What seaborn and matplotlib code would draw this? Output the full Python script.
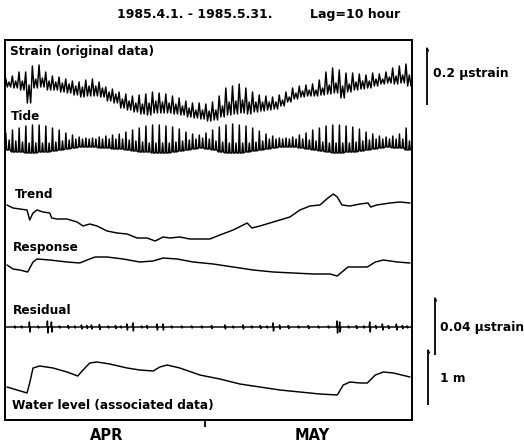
import numpy as np
import pandas as pd
import matplotlib
matplotlib.use("Agg")
import matplotlib.pyplot as plt
import seaborn as sns

# ---------------- data (display units: 57 units = 0.2 ustrain, 55 units = 1 m) ----------------
n_days = 61  # 1985.4.1 - 1985.5.31

strain_hi = [22, 24, 28, 28, 34, 35, 28, 24, 23, 21, 19, 18, 20, 21, 18, 13, 11, 8, 6, 4,
             5, 6, 8, 7, 6, 4, 2, -1, -3, -3, -4, -2, 4, 12, 14, 16, 12, 8, 5, 4,
             3, 5, 8, 12, 14, 15, 16, 20, 28, 32, 30, 27, 27, 26, 25, 27, 26, 28, 32, 34, 36]
strain_hi2 = [18, 19, 19, 15, 21, 22, 19, 18, 17, 16, 14, 13, 14, 14, 12, 8, 6, 1, -1, -3,
              -4, -3, -1, -2, -3, -4, -6, -8, -10, -10, -11, -10, -6, -2, -1, 0, -2, -2, -2, -2,
              -2, 0, 3, 7, 9, 10, 10, 12, 15, 17, 14, 16, 18, 19, 19, 21, 21, 23, 24, 25, 25]
strain_lo = [13, 12, 10, -3, 12, 13, 10, 10, 8, 7, 5, 3, 4, 4, 3, -1, -3, -8, -10, -12,
             -14, -15, -13, -13, -13, -14, -15, -17, -18, -19, -21, -20, -17, -15, -14, -13, -14, -12, -11, -10,
             -9, -6, -2, 1, 3, 4, 4, 5, 6, 7, 2, 8, 10, 11, 12, 14, 16, 17, 16, 17, 14]

tide_hi = [12, 15, 17, 19, 20, 20, 19, 17, 15, 12, 10, 8, 7, 7, 8, 9, 10, 11, 13, 15,
           17, 19, 20, 20, 19, 18, 16, 13, 11, 10, 12, 15, 18, 20, 21, 20, 19, 17, 14, 11,
           9, 7, 7, 8, 10, 12, 15, 17, 19, 20, 20, 19, 18, 16, 13, 11, 9, 8, 9, 11, 17]
tide_hi2 = [5, 4, 3, 2, 2, 2, 2, 3, 4, 5, 6, 6, 6, 6, 6, 6, 6, 6, 5, 4,
            3, 2, 2, 2, 2, 3, 4, 5, 6, 7, 6, 4, 3, 2, 2, 2, 2, 3, 4, 6,
            6, 6, 6, 6, 6, 5, 4, 3, 2, 2, 2, 2, 3, 4, 5, 6, 6, 6, 6, 6, 4]
tide_lo = [-5, -7, -7, -8, -8, -7, -7, -6, -5, -4, -3, -2, -2, -2, -3, -3, -4, -4, -5, -6,
           -7, -7, -8, -8, -8, -7, -6, -5, -4, -3, -4, -5, -7, -8, -8, -8, -7, -6, -5, -4,
           -3, -2, -2, -2, -3, -4, -5, -6, -7, -8, -8, -7, -7, -6, -5, -4, -3, -2, -3, -3, -5]

trend_day = [0.3, 1.2, 2.2, 3.3, 3.7, 4.2, 4.8, 5.7, 6.7, 7.0, 7.8, 9.3, 10.8, 11.7, 12.7, 13.8,
             15.3, 16.8, 18.3, 19.8, 21.3, 22.5, 23.7, 24.7, 26.2, 27.7, 29.2, 30.7, 32.2, 34.2,
             35.7, 36.3, 37.0, 38.2, 39.7, 41.2, 42.7, 44.2, 45.7, 47.2, 48.4, 49.2, 49.8, 50.5,
             51.7, 53.2, 54.4, 54.8, 55.7, 57.7, 59.2, 60.7]
trend_val = [15, 12, 11, 10, 0, 7, 10, 8, 7, 2, 1, 1, -2, -6, -4, -6,
             -11, -13, -14, -18, -18, -21, -17, -18, -17, -19, -19, -19, -15, -10,
             -5, -3, -8, -6, -3, 0, 3, 10, 14, 15, 22, 26, 23, 15,
             14, 16, 17, 13, 15, 17, 18, 17]

response_day = [0.3, 1.2, 2.2, 3.4, 4.2, 4.8, 6.7, 9.3, 11.2, 12.3, 13.5, 15.3, 17.7, 20.2, 22.2,
                23.7, 25.8, 28.2, 31.2, 34.2, 37.2, 40.2, 43.2, 46.2, 48.7, 49.8, 50.5, 51.4,
                52.8, 54.3, 55.5, 56.7, 58.8, 60.7]
response_val = [0, -4, -5, -7, 3, 6, 5, 3, 2, 5, 8, 8, 6, 3, 4,
                7, 6, 3, 1, -2, -5, -7, -8, -9, -9, -11, -7, -2,
                -2, -2, 3, 5, 3, 2]

water_day = [0.3, 1.8, 3.3, 3.7, 4.2, 5.2, 7.2, 9.3, 10.9, 11.7, 12.7, 13.8, 15.7, 18.3, 20.2,
             22.2, 23.2, 24.3, 26.2, 29.2, 32.2, 35.2, 38.2, 41.2, 44.2, 47.2, 49.8, 50.7,
             51.7, 53.2, 54.3, 55.5, 56.7, 58.2, 60.7]
water_val = [-7, -10, -13, -3, 12, 14, 12, 8, 4, 10, 17, 18, 16, 12, 10,
             9, 13, 15, 12, 5, 1, -4, -7, -10, -12, -14, -15, -5,
             -2, -3, -3, 5, 8, 7, 3]

resid_day = [1.5, 2.5, 3.7, 5.0, 6.4, 7.0, 8.2, 9.5, 10.5, 11.5, 12.3, 13.0, 14.2, 15.5, 16.6,
             17.4, 18.3, 19.2, 20.5, 21.3, 22.8, 23.7, 25.0, 26.5, 28.0, 29.5, 31.0, 33.0,
             34.2, 35.7, 37.0, 38.3, 39.3, 40.2, 41.2, 42.5, 44.0, 45.5, 47.0, 48.5, 49.8,
             50.2, 51.5, 52.7, 53.8, 54.7, 55.6, 56.6, 57.5, 58.7, 59.6, 60.3]
resid_amp = [1, 1, 5, 1, 6, 5, 1, 1.5, 1, 2, 1.5, 2, 2.5, 1, 1.5,
             1, 3, 4, 1, 1.5, 3, 3, 1, 1, 1, 1, 1.5, 2,
             1, 2, 1, 1.5, 1, 4, 2, 1.5, 1, 1.5, 1, 1, 6,
             5, 1, 1.5, 1, 5, 1.5, 3, 1.5, 3, 1.5, 1]

title_left = "1985.4.1. - 1985.5.31."
title_right = "Lag=10 hour"
month_labels = ["APR", "MAY"]
trace_labels = ["Strain (original data)", "Tide", "Trend", "Response", "Residual",
                "Water level (associated data)"]
scale_labels = ["0.2 \u00b5strain", "0.04 \u00b5strain", "1 m"]

# ---------------- style ----------------
sns.set_style("white")
plt.rcParams["font.family"] = ["DejaVu Sans"]

W, H = 524, 448
fig = plt.figure(figsize=(W / 100, H / 100), dpi=100)
fig.patch.set_facecolor("white")

# main frame (pixel layout: x 5..412, y 40..420)
ax = fig.add_axes([5 / W, (H - 420) / H, 407 / W, 380 / H])
ax.set_xlim(0, n_days)
ax.set_ylim(0, 380)
ax.set_facecolor("white")

def zigzag(hi, hi2, lo):
    xs, ys = [], []
    for d in range(len(hi)):
        xs += [d + 0.1, d + 0.35, d + 0.6, d + 0.85]
        ys += [hi[d], lo[d], hi2[d], lo[d]]
    return np.array(xs), np.array(ys)

def comb(hi, hi2, lo):
    # sharp upward spikes on a flatter base, two per day
    xs, ys = [], []
    for d in range(len(hi)):
        xs += [d + 0.0, d + 0.12, d + 0.24, d + 0.5, d + 0.62, d + 0.74]
        ys += [lo[d], hi[d], lo[d], lo[d], hi2[d], lo[d]]
    return np.array(xs), np.array(ys)

offsets = {"strain": 320, "tide": 275, "trend": 200, "response": 155, "resid": 93, "water": 40}
lw = 1.05

sx, sy = zigzag(strain_hi, strain_hi2, strain_lo)
tx, ty = comb(tide_hi, tide_hi2, tide_lo)

rx, ry = [0.0], [0.0]
for t, a in zip(resid_day, resid_amp):
    rx += [t - 0.12, t - 0.04, t + 0.04, t + 0.12]
    ry += [0, a, -a, 0]
rx.append(n_days)
ry.append(0)

traces = [
    (sx, sy, offsets["strain"]),
    (tx, ty, offsets["tide"]),
    (np.array(trend_day), np.array(trend_val), offsets["trend"]),
    (np.array(response_day), np.array(response_val), offsets["response"]),
    (np.array(rx), np.array(ry), offsets["resid"]),
    (np.array(water_day), np.array(water_val), offsets["water"]),
]
for x, y, off in traces:
    df = pd.DataFrame({"day": x, "value": y + off})
    sns.lineplot(data=df, x="day", y="value", ax=ax, color="black", linewidth=lw,
                 estimator=None, sort=False, legend=False)

ax.set_xlabel("")
ax.set_ylabel("")
ax.set_yticks([])
ax.set_xticks([30])
ax.set_xticklabels([""])
ax.tick_params(axis="x", direction="out", length=5, width=1.3, color="black", bottom=True)
for s in ax.spines.values():
    s.set_visible(True)
    s.set_color("black")
    s.set_linewidth(1.4)

# overlay in pixel coordinates for text and scale bars
ov = fig.add_axes([0, 0, 1, 1])
ov.set_xlim(0, W)
ov.set_ylim(H, 0)
ov.axis("off")
ov.patch.set_alpha(0)

bold = dict(fontweight="bold", color="black")
ov.text(117, 14.5, title_left, fontsize=9, ha="left", va="center", **bold)
ov.text(310, 14.5, title_right, fontsize=9, ha="left", va="center", **bold)

label_pos = [(10, 52), (11, 116), (15, 194), (13, 248), (13, 310), (12, 405)]
for (px, py), txt in zip(label_pos, trace_labels):
    ov.text(px, py, txt, fontsize=8.7, ha="left", va="center", **bold)

for px, txt in zip([107, 312], month_labels):
    ov.text(px, 436, txt, fontsize=10.5, ha="center", va="center", **bold)

# scale bars
bars = [(427, 48, 105), (435, 298, 355), (428, 350, 405)]
for bx, y0, y1 in bars:
    ov.plot([bx, bx], [y0, y1], color="black", linewidth=1.3, solid_capstyle="butt")
    ov.plot([bx, bx + 1.5], [y0, y0 + 3], color="black", linewidth=1.0)
for (px, py), txt in zip([(433, 73), (440, 328), (440, 378)], scale_labels):
    ov.text(px, py, txt, fontsize=8.8, ha="left", va="center", **bold)

fig.savefig("out.png", dpi=100, facecolor="white")
